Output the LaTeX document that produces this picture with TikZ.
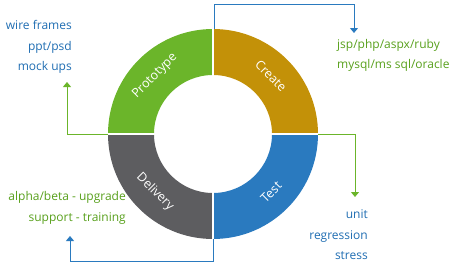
\documentclass[tikz,border=0pt]{standalone}
\usepackage{fontspec}
\setmainfont{Open Sans}
\usepackage{tikz}
\usetikzlibrary{positioning,arrows.meta,calc}
\definecolor{protogreen}{HTML}{6BB52A}
\definecolor{creategold}{HTML}{C39108}
\definecolor{testblue}{HTML}{2A7ABF}
\definecolor{delivgray}{HTML}{5D5D60}
\definecolor{txtblue}{HTML}{1F6DB2}
\definecolor{txtgreen}{HTML}{58A01C}
\newcommand{\Rout}{105}
\newcommand{\Rin}{59}

\begin{document}
\begin{tikzpicture}[
  x=1pt, y=1pt,
  seglabel/.style={text=white, font=\fontsize{12.5}{14}\selectfont, inner sep=0pt},
  list/.style={align=right, font=\fontsize{12}{20.5}\selectfont, inner sep=0pt},
  feed/.style={-{Triangle[width=8pt,length=5pt]}, line width=0.9pt},
]
  \useasboundingbox (0,0) rectangle (457,266);
  \coordinate (c) at (213,132);
  \fill[protogreen] ($(c)+(90:\Rout)$) arc[start angle=90, end angle=180, radius=\Rout] -- ($(c)+(180:\Rin)$) arc[start angle=180, end angle=90, radius=\Rin] -- cycle;
  \fill[creategold] ($(c)+(0:\Rout)$) arc[start angle=0, end angle=90, radius=\Rout] -- ($(c)+(90:\Rin)$) arc[start angle=90, end angle=0, radius=\Rin] -- cycle;
  \fill[testblue] ($(c)+(-90:\Rout)$) arc[start angle=-90, end angle=0, radius=\Rout] -- ($(c)+(0:\Rin)$) arc[start angle=0, end angle=-90, radius=\Rin] -- cycle;
  \fill[delivgray] ($(c)+(180:\Rout)$) arc[start angle=180, end angle=270, radius=\Rout] -- ($(c)+(270:\Rin)$) arc[start angle=270, end angle=180, radius=\Rin] -- cycle;
  \draw[white, line width=2pt] ($(c)+(-\Rout-1,0)$) -- ($(c)+(\Rout+1,0)$) ($(c)+(0,-\Rout-1)$) -- ($(c)+(0,\Rout+1)$);
  \node[seglabel, rotate=45] (proto) at ($(c)+(135:82)$) {Prototype};
  \node[seglabel, rotate=-45] (create) at ($(c)+(45:82)$) {Create};
  \node[seglabel, rotate=45] (test) at ($(c)+(-45:82)$) {Test};
  \node[seglabel, rotate=-45] (deliv) at ($(c)+(-135:82)$) {Delivery};
  \coordinate (ring-n) at ($(c)+(1,\Rout)$);
  \coordinate (ring-e) at ($(c)+(\Rout,0)$);
  \coordinate (ring-s) at ($(c)+(0,-\Rout)$);
  \coordinate (ring-w) at ($(c)+(-\Rout,0)$);
  \coordinate (create-in) at (354,233);
  \coordinate (test-in) at (355,69);
  \coordinate (deliv-in) at (70,30);
  \coordinate (proto-in) at (67,184);
  \node[list, text=txtblue, anchor=east] (protolist) at (72,219) {wire frames\\ppt/psd\\mock ups};
  \node[list, text=txtgreen, align=left, anchor=west] (createlist) at (337,210.5) {jsp/php/aspx/ruby\\mysql/ms sql/oracle};
  \node[list, text=txtblue, anchor=east] (testlist) at (368,31) {unit\\regression\\stress};
  \node[list, text=txtgreen, anchor=east] (delivlist) at (126,58) {alpha/beta - upgrade\\support - training};
  \draw[feed, testblue] (ring-n) -- ++(0,25) -| (create-in);
  \draw[feed, protogreen] (ring-e) -| (test-in);
  \draw[feed, testblue] (ring-s) -- ++(0,-22) -| (deliv-in);
  \draw[feed, protogreen] (ring-w) -| (proto-in);
\end{tikzpicture}
\end{document}
